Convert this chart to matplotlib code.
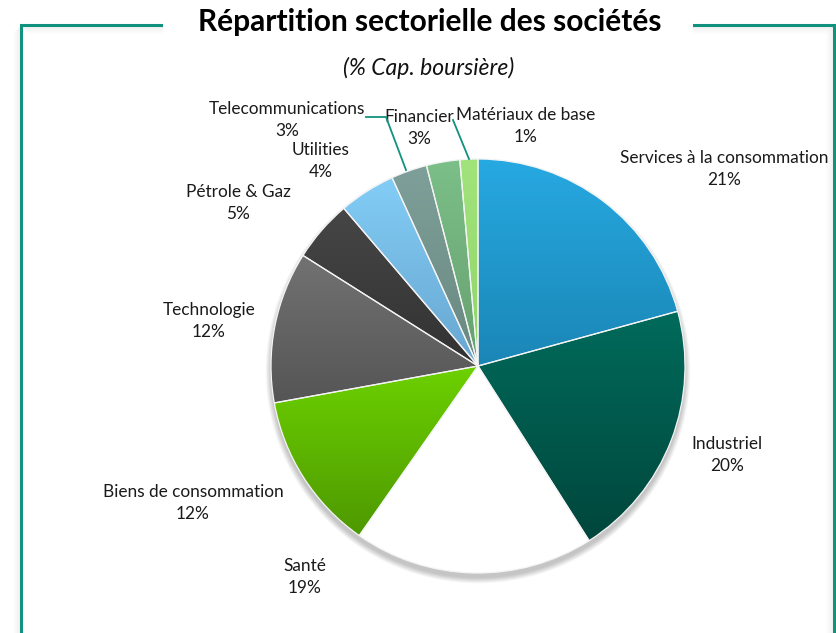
import numpy as np
import matplotlib
matplotlib.use("Agg")
import matplotlib.pyplot as plt
from matplotlib.patches import Circle, Rectangle
from matplotlib.colors import LinearSegmentedColormap

# ---------------- data ----------------
sectors = ["Services à la consommation", "Industriel", "Santé", "Biens de consommation",
           "Technologie", "Pétrole & Gaz", "Utilities", "Telecommunications",
           "Financier", "Matériaux de base"]
shares = [20.7, 20.2, 18.7, 12.4, 11.8, 4.8, 4.4, 2.8, 2.6, 1.4]
title = "Répartition sectorielle des sociétés"
subtitle = "(% Cap. boursière)"

# ---------------- style ----------------
top_colors = ["#27A9E1", "#006B5B", "#FFFFFF", "#6CD100", "#727272",
              "#464646", "#82CDF6", "#7FA09A", "#7CBF88", "#A2E47C"]
bot_colors = ["#1A86B6", "#00463C", "#FFFFFF", "#4E9800", "#555555",
              "#323232", "#68A6D0", "#688880", "#66A070", "#8ED468"]
label_pos = [(724, 169), (727, 455), (305, 577), (193, 503), (209, 321),
             (238, 203), (321, 161), (287, 120), (419, 128), (526, 126)]
frame_col = "#10927F"
plt.rcParams['font.family'] = ['Lato', 'DejaVu Sans']

W, H = 837, 633
fig = plt.figure(figsize=(W / 100, H / 100), dpi=100)
ax = fig.add_axes([0, 0, 1, 1])
ax.set_xlim(0, W)
ax.set_ylim(H, 0)
ax.axis('off')

# frame with soft inner shadow
for k in range(1, 9):
    a = 0.05 * (1 - k / 9)
    ax.plot([21 + k, 834 - k], [25 + k, 25 + k], color='black', alpha=a, lw=1, zorder=1)
    ax.plot([834 - k, 834 - k], [25 + k, H], color='black', alpha=a, lw=1, zorder=1)
    ax.plot([21 - k, 21 - k], [25 + k, H], color='black', alpha=a, lw=1, zorder=1)
ax.plot([21, 21, 834, 834], [H + 5, 25, 25, H + 5], color=frame_col, lw=2.2, zorder=2,
        solid_joinstyle='miter')
ax.add_patch(Rectangle((163, 0), 530, 45, facecolor='white', edgecolor='none', zorder=3))

ax.text(430, 22, title, ha='center', va='center', fontsize=21.5, fontweight='bold',
        color='black', zorder=4)
ax.text(429, 68, subtitle, ha='center', va='center', fontsize=16.5, style='italic',
        color='#111111', zorder=4)

# pie
cx, cy, R = 478, 366, 207
for k in range(10):
    ax.add_patch(Circle((cx, cy + 5), R + k * 0.6, facecolor='black',
                        alpha=0.025, edgecolor='none', zorder=4))
ax.add_patch(Circle((cx, cy), R, facecolor='white', edgecolor='none', zorder=5))

wedges, _ = ax.pie(shares, center=(cx, cy), radius=R, startangle=-90, counterclock=True,
                   colors=top_colors, frame=False,
                   wedgeprops=dict(edgecolor='#F4F4F4', linewidth=0.9, zorder=7))
grad = np.linspace(0, 1, 256).reshape(-1, 1)
for w, ct, cb in zip(wedges, top_colors, bot_colors):
    w.set_facecolor('none')
    ext = w.get_path().get_extents()
    cmap = LinearSegmentedColormap.from_list("g", [ct, cb])
    im = ax.imshow(grad, extent=(ext.x0, ext.x1, ext.y1, ext.y0), origin='upper',
                   cmap=cmap, aspect='auto', zorder=6, interpolation='bilinear')
    im.set_clip_path(w)
ax.set_xlim(0, W)
ax.set_ylim(H, 0)

total = sum(shares)
for name, v, (lx, ly) in zip(sectors, shares, label_pos):
    ax.text(lx, ly, f"{name}\n{round(100 * v / total)}%", ha='center', va='center',
            fontsize=12.4, linespacing=1.5, color='#1A1A1A', zorder=8)

# leader lines
ax.plot([366, 386, 406], [117, 117, 170], color=frame_col, lw=1.3, zorder=8)
ax.plot([453, 469], [120, 159], color=frame_col, lw=1.3, zorder=8)

fig.savefig("out.png", dpi=100)
